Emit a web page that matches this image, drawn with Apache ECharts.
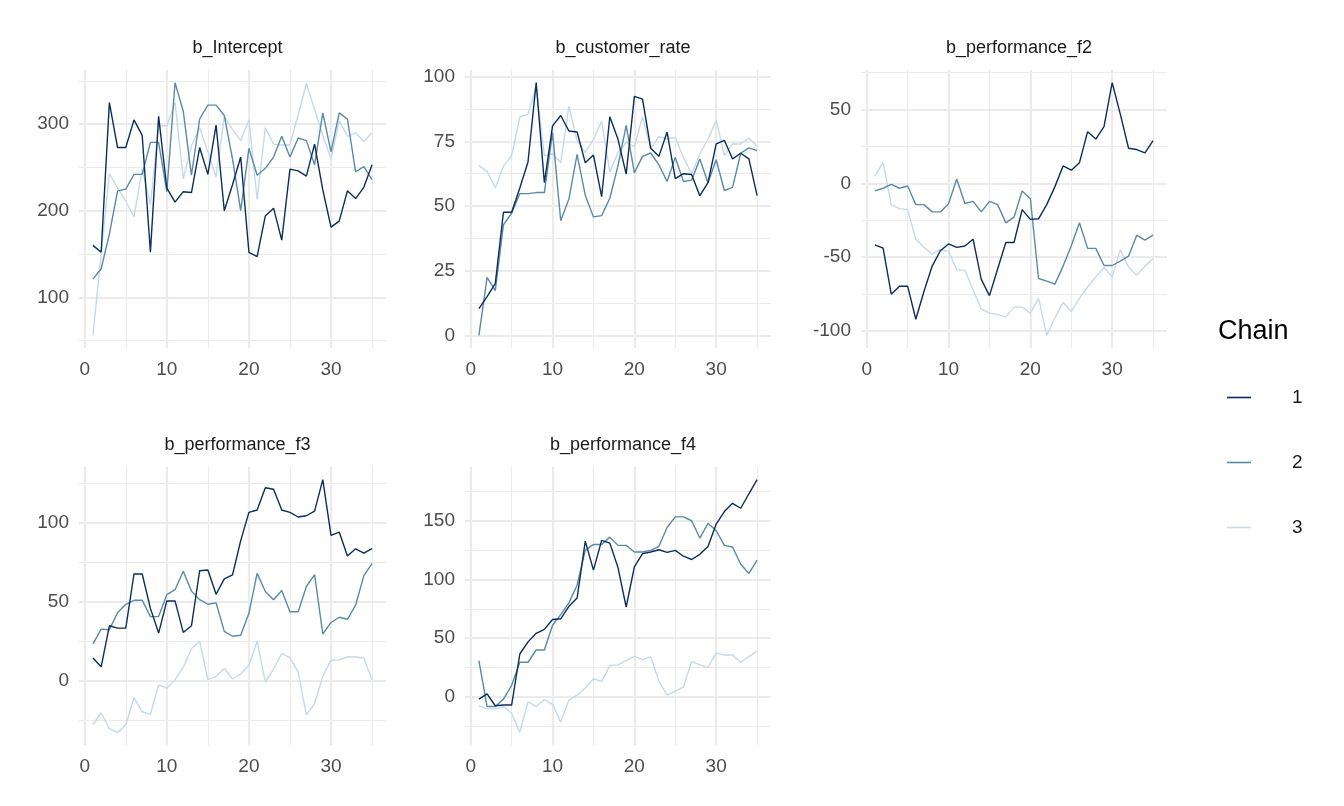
<!DOCTYPE html>
<html><head><meta charset="utf-8">
<script src="https://cdn.jsdelivr.net/npm/echarts@6/dist/echarts.min.js"></script>
<style>html,body{margin:0;background:#fff}#c{width:1344px;height:806px}</style>
</head><body><div id="c"></div>
<script>
"use strict";

const ITER = Array.from({ length: 35 }, (_, i) => i + 1);
const CHAINS = ["1", "2", "3"];
const COLORS = ["#0b2d5b", "#5a8aa7", "#c5d9e8"];
const PANELS = ["b_Intercept", "b_customer_rate", "b_performance_f2", "b_performance_f3", "b_performance_f4"];

const intercept = [
  [160,152,325,273,273,305,287,152,309,226,210,222,221,273,242,299,200,230,262,152,147,194,203,166,248,246,240,277,224,181,188,223,214,227,253],
  [121,133,173,223,225,242,242,279,279,222,348,315,241,306,322,322,310,260,200,272,241,249,262,286,262,284,281,253,313,268,313,306,245,251,236],
  [56,150,243,226,211,193,248,207,298,298,325,237,275,296,268,239,309,294,281,305,213,296,277,276,276,311,347,317,287,260,304,286,290,280,290],
];
const customerRate = [
  [10.3,15,20,47.6,47.6,57,67,97.7,59,81,85,79,78.6,66.7,69.7,53.6,84.5,75.8,62.3,92.4,91.3,72.3,69.2,78.6,60.6,62.5,62.2,54,59,74,75.4,68.2,70.4,68.2,54],
  [0,22.4,17.3,42.7,47.2,54.8,54.8,55.2,55.2,78.4,44.3,52.7,70,54.2,45.8,46.3,53,65.6,81.2,62.8,69.2,70.5,65.9,59.5,68.8,59.5,60,68.2,59,67.9,56,57.2,70.4,72.5,71.4],
  [65.6,63.4,57,65.4,69.5,84.4,85.4,96.2,69.5,70.1,66.7,88.5,75.2,70.7,75.8,82.8,63.1,70.7,74.6,73,84.5,72,76.8,76,76.5,68.8,62.5,70.1,75.8,83.2,69.5,74,74,76.3,73],
];
const perfF2 = [
  [-41.6,-43.8,-75,-69.6,-69.6,-92,-73,-56,-45.6,-41,-43.3,-42.4,-37.8,-65,-76,-58,-40,-40,-17.8,-24.4,-24,-14.4,-2.2,11.8,8.9,14,35,30,38.4,68.2,46.7,23.8,22.9,20.7,28.9],
  [-5.1,-3.3,-0.7,-3.3,-1.8,-14.4,-14.4,-19.3,-19.3,-13.8,2.9,-13.6,-12.2,-19.3,-12.2,-14.4,-26.7,-22.9,-5.1,-10.4,-64.4,-66.2,-68.2,-56,-42.2,-26.7,-44,-44,-55.6,-55.6,-52.7,-49.3,-35.1,-38.4,-35.1],
  [5.1,14,-14.4,-17.1,-17.8,-37.8,-43.3,-47.8,-44.9,-46,-58.4,-58.9,-72.2,-85.1,-87.8,-88.9,-90.4,-83.8,-83.8,-87.8,-77.8,-102.9,-91,-80.7,-86.7,-77.8,-70,-63.3,-57,-63.3,-45,-56.7,-62.2,-56.2,-51],
];
const perfF3 = [
  [14.5,8.9,34.8,33.3,33.3,67.5,67.5,45.8,30.2,50.5,50.5,30.6,34.8,69.6,70,54.7,64.4,66.9,88.6,106.4,107.9,122,121,107.9,106.4,103.5,104.3,107.2,127.1,91.9,94,78.9,83.4,80.7,83.6],
  [23.4,32.7,32.3,43.1,48.4,50.9,50.9,40.6,40.6,54.5,57.6,69.2,56.7,51.3,48.4,49.3,31.3,28.2,28.8,42.7,67.9,56.5,51.3,57.1,43.7,43.7,59.6,67.1,29.6,36.9,40.2,38.9,47.8,66.5,74.1],
  [-27.7,-20.1,-30.2,-32.5,-27.7,-10.6,-19.5,-21.1,-2.5,-4.6,0.8,8.5,20.3,25.1,0.8,2.9,7.9,1.2,4.3,9.9,25.1,-0.8,7.5,17.2,14.7,5.4,-21.5,-14.3,2.9,13,13.3,15.1,15.1,14.5,0.8],
];
const perfF4 = [
  [-1.7,2.8,-7.3,-6.7,-6.7,36.6,46.9,54.2,57.5,65.9,66.5,77.1,84.1,132.4,107.8,133,130.7,110,76.5,110.6,121.8,123.2,125.1,122.9,124.6,119.6,116.8,121.2,127.9,146.9,157.5,164.5,160.3,172.6,184.6],
  [31,-8,-8,-1.7,10,29.6,29.6,40,40,61,70,80,95,124.6,129.6,129.6,135.8,128.8,128.8,123.2,123.2,124.6,128,144,153,153,149.7,135,147.5,141.3,128.8,127.4,112.8,105,116.2],
  [-7.3,-10,-10,-8,-13.7,-29.9,-3.9,-8,-2,-6.1,-21.2,-2.5,1.7,7.8,15.6,13.4,26.8,27.4,31,34.6,31.8,34.4,13.4,1.7,5,8.7,30.2,27.4,25.1,37.4,35.8,35.8,29.6,34.4,39.1],
];
const DATA = [intercept, customerRate, perfF2, perfF3, perfF4];
const Y_MAJOR = [[100,200,300],[0,25,50,75,100],[-100,-50,0,50],[0,50,100],[0,50,100,150]];
const Y_MINOR = [[50,150,250,350],[12.5,37.5,62.5,87.5],[-75,-25,25,75],[-25,25,75,125],[-25,25,75,125,175]];
const X_MAJOR = [0,10,20,30];
const X_MINOR = [5,15,25,35];

// panel boxes [left, top, width, height] in px
const BOX = [
  [79, 70, 307, 278], [465, 70, 306, 278], [861, 70, 306, 278],
  [79, 467, 307, 278], [465, 467, 306, 278],
];

const FONT = "Liberation Sans, Arial";
const GRID_C = "#ebebeb";
const grids = [], xAxes = [], yAxes = [], series = [], titles = [];
PANELS.forEach((name, p) => {
  const [l, t, w, h] = BOX[p];
  grids.push({ left: l, top: t, width: w, height: h });
  titles.push({ text: name, left: l + w / 2, top: t - 36, textAlign: "center",
    textStyle: { fontSize: 18, fontWeight: "normal", color: "#1a1a1a", fontFamily: FONT } });
  const all = DATA[p].flat();
  const lo = Math.min(...all), hi = Math.max(...all), pad = (hi - lo) * 0.05;
  const ymin = lo - pad, ymax = hi + pad;
  const xBase = { type: "value", gridIndex: p, min: -0.7, max: 36.7, axisLine: { show: false } };
  xAxes.push({ ...xBase,
    axisTick: { show: false, customValues: X_MAJOR },
    axisLabel: { customValues: X_MAJOR, fontSize: 19, color: "#4d4d4d", margin: 12, fontFamily: FONT },
    splitLine: { show: true, lineStyle: { color: GRID_C, width: 2.2 } } });
  xAxes.push({ ...xBase,
    axisTick: { show: false, customValues: X_MINOR },
    axisLabel: { show: false, customValues: X_MINOR },
    splitLine: { show: true, lineStyle: { color: GRID_C, width: 1.1 } } });
  const yBase = { type: "value", gridIndex: p, min: ymin, max: ymax, axisLine: { show: false } };
  yAxes.push({ ...yBase,
    axisTick: { show: false, customValues: Y_MAJOR[p] },
    axisLabel: { customValues: Y_MAJOR[p], fontSize: 19, color: "#4d4d4d", margin: 10, fontFamily: FONT },
    splitLine: { show: true, lineStyle: { color: GRID_C, width: 2.2 } } });
  yAxes.push({ ...yBase,
    axisTick: { show: false, customValues: Y_MINOR[p] },
    axisLabel: { show: false, customValues: Y_MINOR[p] },
    splitLine: { show: true, lineStyle: { color: GRID_C, width: 1.1 } } });
  DATA[p].forEach((vals, c) => {
    series.push({ name: CHAINS[c], type: "line", xAxisIndex: p * 2, yAxisIndex: p * 2,
      symbol: "none", silent: true, z: 10 + (2 - c),
      lineStyle: { width: 1.4, color: COLORS[c] }, itemStyle: { color: COLORS[c] },
      data: ITER.map((x, i) => [x, vals[i]]) });
  });
});

const chart = echarts.init(document.getElementById("c"), null, { renderer: "canvas" });
chart.setOption({
  animation: false,
  title: titles,
  grid: grids, xAxis: xAxes, yAxis: yAxes, series,
  legend: { data: CHAINS.map(n => ({ name: n, icon: "rect" })), orient: "vertical", left: 1222, top: 383,
    itemWidth: 24, itemHeight: 1.6, itemGap: 46, itemStyle: { borderWidth: 0 },
    textStyle: { fontSize: 19, color: "#1a1a1a", padding: [0, 0, 0, 36], fontFamily: FONT } },
  graphic: [{ type: "text", left: 1218, top: 318,
    style: { text: "Chain", fontSize: 27, fill: "#000", fontFamily: FONT } }],
});
</script></body></html>
